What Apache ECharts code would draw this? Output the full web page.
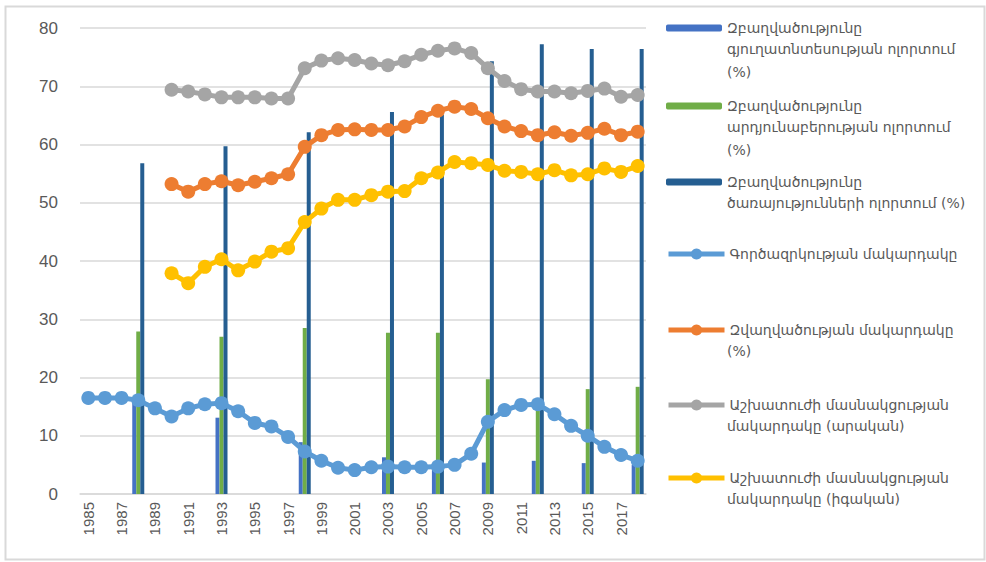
<!DOCTYPE html>
<html>
<head>
<meta charset="utf-8">
<script src="https://cdn.jsdelivr.net/npm/echarts@6/dist/echarts.min.js"></script>
<style>
  html, body { margin: 0; padding: 0; background: #fff; }
  #chart { width: 986px; height: 562px; }
</style>
</head>
<body>
<div id="chart"></div>
<script>
// years on the category axis
var years = [];
for (var y = 1985; y <= 2018; y++) years.push(String(y));

// bars exist only for some years (null = no bar)
var agriShare = [null,null,null,16,null,null,null,null,13.1,null,null,null,null,8.9,null,null,null,null,6.3,null,null,4.5,null,null,5.4,null,null,5.7,null,null,5.3,null,null,5];
var industryShare = [null,null,null,27.9,null,null,null,null,27,null,null,null,null,28.5,null,null,null,null,27.7,null,null,27.7,null,null,19.7,null,null,15,null,null,18,null,null,18.4];
var servicesShare = [null,null,null,56.8,null,null,null,null,59.7,null,null,null,null,62.1,null,null,null,null,65.6,null,null,65.1,null,null,74.3,null,null,77.2,null,null,76.4,null,null,76.4];

var unemployment = [16.5,16.5,16.5,16.1,14.7,13.3,14.7,15.4,15.6,14.2,12.2,11.6,9.8,7.3,5.7,4.5,4.1,4.6,4.7,4.6,4.6,4.7,5.0,6.9,12.4,14.4,15.3,15.4,13.7,11.7,10.0,8.1,6.7,5.7];
var employment = [null,null,null,null,null,53.2,51.9,53.2,53.7,53.0,53.6,54.2,54.9,59.6,61.6,62.5,62.6,62.5,62.5,63.1,64.7,65.8,66.5,66.1,64.5,63.1,62.3,61.6,62.1,61.5,62.0,62.7,61.6,62.2];
var participationMale = [null,null,null,null,null,69.4,69.1,68.6,68.1,68.1,68.1,67.9,67.9,73.1,74.4,74.8,74.5,73.9,73.6,74.3,75.4,76.1,76.5,75.7,73.1,70.9,69.5,69.1,69.1,68.8,69.2,69.6,68.2,68.5];
var participationFemale = [null,null,null,null,null,37.9,36.2,39.0,40.3,38.4,39.9,41.6,42.2,46.7,49.0,50.5,50.5,51.3,51.9,52.0,54.2,55.2,57.0,56.8,56.5,55.5,55.3,54.9,55.6,54.7,54.9,55.9,55.3,56.3];

var names = [
  "Զբաղվածությունը\nգյուղատնտեսության ոլորտում\n(%)",
  "Զբաղվածությունը\nարդյունաբերության ոլորտում\n(%)",
  "Զբաղվածությունը\nծառայությունների ոլորտում (%)",
  "Գործազրկության մակարդակը",
  "Զվաղվածության մակարդակը\n(%)",
  "Աշխատուժի մասնակցության\nմակարդակը (արական)",
  "Աշխատուժի մասնակցության\nմակարդակը (իգական)"
];
var colors = ["#4472C4", "#70AD47", "#255E91", "#5B9BD5", "#ED7D31", "#A5A5A5", "#FFC000"];
var iconY = [28, 106, 182, 254, 330, 405, 478];

var lineH = 23;
var legendFont = { color: "#595959", fontSize: 14, fontFamily: "DejaVu Sans" };

// one legend per series: first line of the name next to the icon,
// the rest of the name as plain text under it
var legends = [];
var extraText = [];
names.forEach(function (n, i) {
  var isBar = i < 3;
  var parts = n.split("\n");
  legends.push({
    data: [{
      name: n,
      itemStyle: { color: colors[i] },
      lineStyle: { color: colors[i], width: 5 }
    }],
    left: 666,
    top: iconY[i] - 9,
    padding: 0,
    itemWidth: 56,
    itemHeight: isBar ? 7 : 14,
    selectedMode: false,
    formatter: function (name) { return name.split("\n")[0]; },
    textStyle: Object.assign({ lineHeight: 18 }, legendFont)
  });
  for (var k = 1; k < parts.length; k++) {
    extraText.push({
      type: "text", left: 727, top: iconY[i] + k * lineH - 9,
      style: { text: parts[k], fill: legendFont.color, fontSize: 14, fontFamily: "DejaVu Sans" },
      silent: true
    });
  }
});

function barSeries(i, data) {
  return {
    name: names[i], type: "bar", data: data,
    barWidth: 4, barGap: "0%",
    itemStyle: { color: colors[i] }
  };
}
function lineSeries(i, data) {
  return {
    name: names[i], type: "line", data: data,
    symbol: "circle", symbolSize: 14, showAllSymbol: true,
    lineStyle: { color: colors[i], width: 5 },
    itemStyle: { color: colors[i] },
    z: 3
  };
}

var chart = echarts.init(document.getElementById("chart"), null, { renderer: "svg" });
chart.setOption({
  animation: false,
  color: colors,
  grid: { left: 80, right: 340, top: 28, bottom: 68 },
  legend: legends,
  graphic: [{
    type: "rect", shape: { x: 5.5, y: 6.5, width: 979, height: 553 },
    style: { fill: "none", stroke: "#D9D9D9", lineWidth: 2 }, silent: true
  }].concat(extraText),
  xAxis: {
    type: "category", data: years,
    axisTick: { show: false },
    axisLine: { lineStyle: { color: "#D9D9D9", width: 1.5 } },
    axisLabel: { rotate: 90, interval: 1, color: "#595959", fontSize: 15, margin: 8 }
  },
  yAxis: {
    type: "value", min: 0, max: 80, interval: 10,
    axisLine: { show: false }, axisTick: { show: false },
    axisLabel: { color: "#595959", fontSize: 17, margin: 22 },
    splitLine: { lineStyle: { color: "#D9D9D9", width: 1.5 } }
  },
  series: [
    barSeries(0, agriShare),
    barSeries(1, industryShare),
    barSeries(2, servicesShare),
    lineSeries(3, unemployment),
    lineSeries(4, employment),
    lineSeries(5, participationMale),
    lineSeries(6, participationFemale)
  ]
});
</script>
</body>
</html>
